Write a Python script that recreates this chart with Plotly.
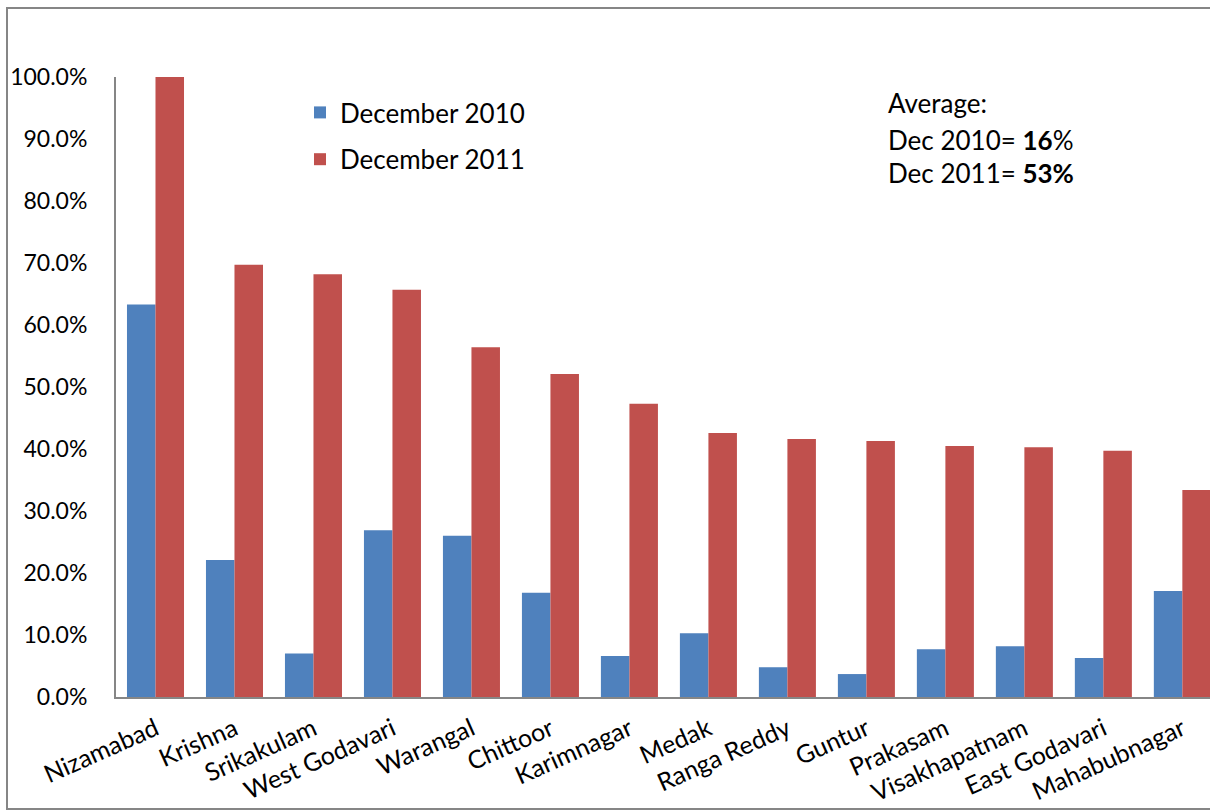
import plotly.graph_objects as go

districts = ["Nizamabad", "Krishna", "Srikakulam", "West Godavari", "Warangal",
             "Chittoor", "Karimnagar", "Medak", "Ranga Reddy", "Guntur",
             "Prakasam", "Visakhapatnam", "East Godavari", "Mahabubnagar"]
dec_2010 = [63.3, 22.1, 7.0, 26.9, 26.0, 16.8, 6.6, 10.3, 4.8, 3.7, 7.7, 8.2, 6.3, 17.1]
dec_2011 = [100.0, 69.7, 68.2, 65.7, 56.4, 52.1, 47.3, 42.6, 41.6, 41.3, 40.5, 40.3, 39.7, 33.4]
series_names = ["December 2010", "December 2011"]
avg_lines = ["Average:", "Dec 2010= <b>16</b>%", "Dec 2011= <b>53%</b>"]

W, H = 1210, 810
L, R, T, B = 116, 0, 77, 113
pw, ph = W - L - R, H - T - B

def px_x(x):
    return (x - L) / pw

def px_y(y):
    return (H - B - y) / ph

FONT = "Lato"
BLUE = "#4F81BD"
RED = "#C0504D"
AXIS = "#868686"

fig = go.Figure()
fig.add_trace(go.Bar(x=districts, y=[v / 100 for v in dec_2010], name=series_names[0],
                     marker=dict(color=BLUE, line=dict(width=0)), legendgroup="a"))
fig.add_trace(go.Bar(x=districts, y=[v / 100 for v in dec_2011], name=series_names[1],
                     marker=dict(color=RED, line=dict(width=0)), legendgroup="b"))

annotations = []
for txt, yy in zip(avg_lines, [103, 140, 173]):
    annotations.append(dict(
        text=txt, xref="paper", yref="paper", x=px_x(886), y=px_y(yy),
        xanchor="left", yanchor="middle", showarrow=False,
        font=dict(family=FONT, size=26, color="black")))

fig.update_layout(
    width=W, height=H,
    margin=dict(l=L, r=R, t=T, b=B, autoexpand=False),
    paper_bgcolor="white", plot_bgcolor="white",
    barmode="group", bargap=0.278, bargroupgap=0,
    font=dict(family=FONT, size=24, color="black"),
    legend=dict(x=px_x(300), y=px_y(89), xanchor="left", yanchor="top",
                bgcolor="rgba(0,0,0,0)", tracegroupgap=10,
                font=dict(family=FONT, size=26, color="black")),
    xaxis=dict(type="category", range=[-0.5, 13.35], showline=True,
               linecolor=AXIS, linewidth=2, ticks="", showgrid=False,
               tickangle=-24, tickfont=dict(family=FONT, size=25, color="black"),
               ticklabelstandoff=6),
    yaxis=dict(range=[0, 1], dtick=0.1, tickformat=".1%", showline=True,
               linecolor=AXIS, linewidth=2, ticks="", showgrid=False,
               zeroline=False, tickfont=dict(family=FONT, size=23, color="black"),
               ticklabelstandoff=22),
    annotations=annotations,
    shapes=[dict(type="rect", xref="paper", yref="paper",
                 x0=px_x(7), x1=px_x(1230), y0=px_y(809), y1=px_y(8),
                 line=dict(color=AXIS, width=2), fillcolor="rgba(0,0,0,0)",
                 layer="below")],
)

fig.write_html("out.html")
